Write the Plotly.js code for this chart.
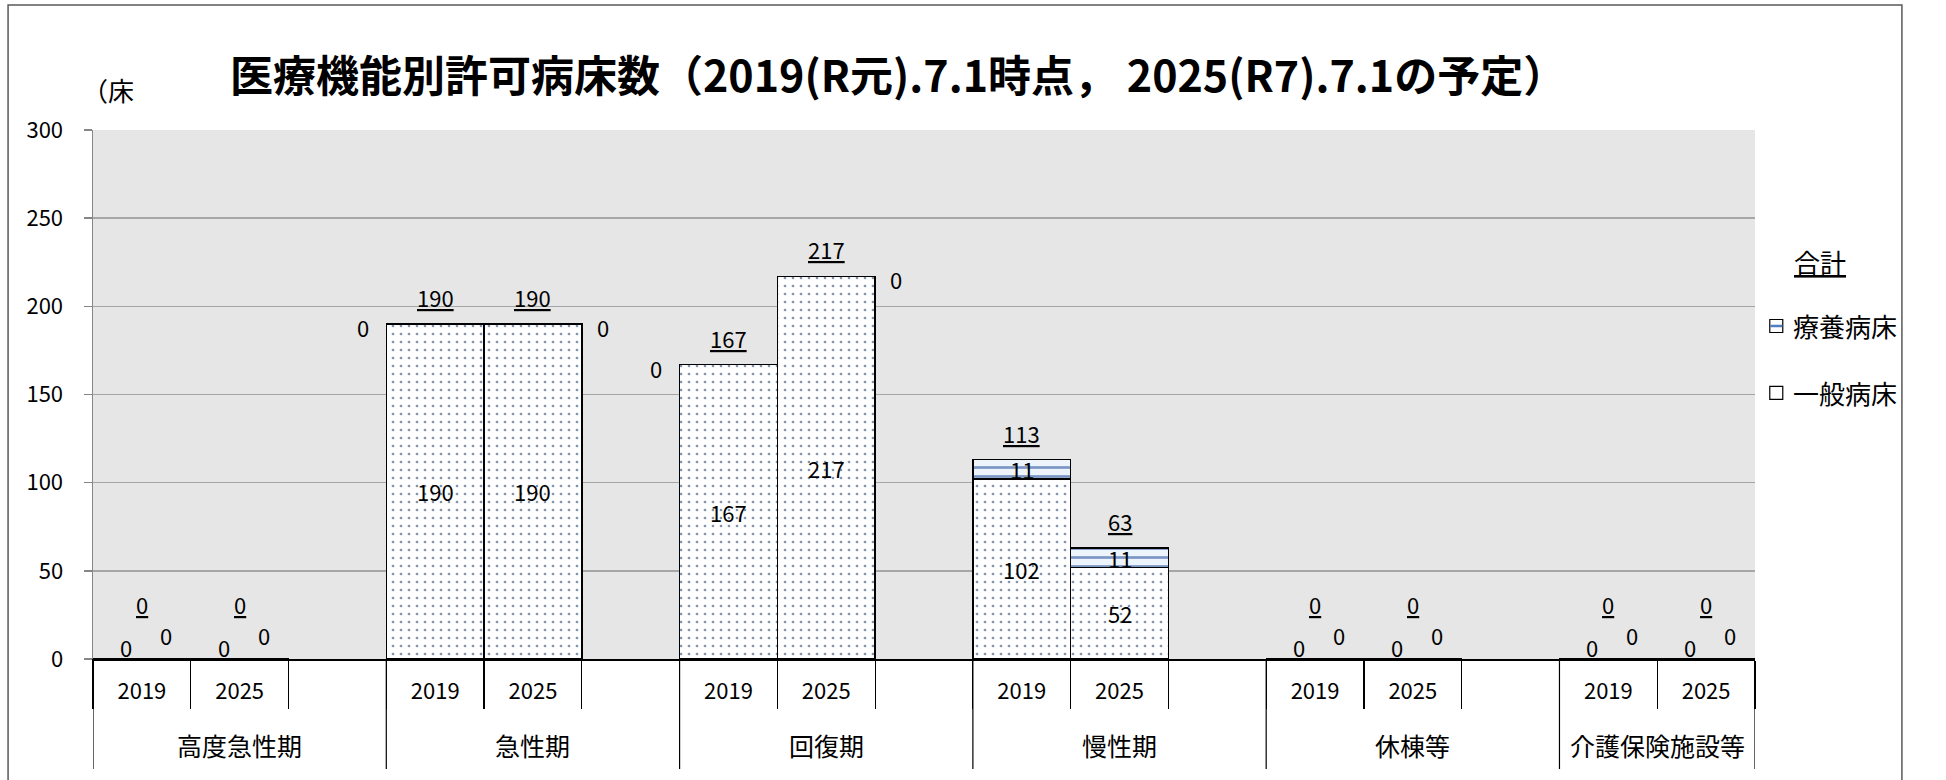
<!DOCTYPE html>
<html>
<head>
<meta charset="utf-8">
<script src="https://cdn.plot.ly/plotly-3.0.1.min.js"></script>
<style>html,body{margin:0;padding:0;background:#fff;}#chart{width:1946px;height:780px;}</style>
</head>
<body>
<div id="chart"></div>
<script>
// ---- data ----
const groups = ['高度急性期', '急性期', '回復期', '慢性期', '休棟等', '介護保険施設等'];
const yearLabels = ['2019', '2025'];
const general2019 = [0, 190, 167, 102, 0, 0];
const general2025 = [0, 190, 217, 52, 0, 0];
const ryoyo2019 = [0, 0, 0, 11, 0, 0];
const ryoyo2025 = [0, 0, 0, 11, 0, 0];
const total2019 = [0, 190, 167, 113, 0, 0];
const total2025 = [0, 190, 217, 63, 0, 0];
const seriesNames = {general: '一般病床', ryoyo: '療養病床', total: '合計'};
const yAxisUnit = '（床';
const titleText = '医療機能別許可病床数（2019(R元).7.1時点， 2025(R7).7.1の予定）';

// ---- build category slots (2019, 2025, spacer per group) ----
const slotKeys = [], slotTexts = [], genY = [], ryoY = [];
const points = [];
const groupSpans = [];
groups.forEach((g, gi) => {
  const start = slotKeys.length;
  yearLabels.forEach((yr, yi) => {
    const gen = yi === 0 ? general2019[gi] : general2025[gi];
    const ryo = yi === 0 ? ryoyo2019[gi] : ryoyo2025[gi];
    const tot = yi === 0 ? total2019[gi] : total2025[gi];
    slotKeys.push(g + '｜' + yr); slotTexts.push(yr); genY.push(gen); ryoY.push(ryo);
    points.push({idx: slotKeys.length - 1, yi, gen, ryo, tot});
  });
  if (gi < groups.length - 1) {
    slotKeys.push(g + '｜'); slotTexts.push(''); genY.push(null); ryoY.push(null);
  }
  groupSpans.push({name: g, start, end: slotKeys.length - 1});
});

const FONT = 'Noto Sans CJK JP, Noto Sans, sans-serif';
const LBL = 22;

const traces = [
  {
    type: 'bar', name: seriesNames.general, x: slotKeys, y: genY,
    marker: {color: '#ffffff', line: {color: '#000000', width: 1.5},
      pattern: {shape: '.', fgcolor: '#7f93ab', bgcolor: '#ffffff', size: 8, solidity: 0.09}},
    hoverinfo: 'skip', showlegend: false
  },
  {
    type: 'bar', name: seriesNames.ryoyo, x: slotKeys, y: ryoY,
    marker: {color: '#ffffff', line: {color: '#000000', width: 1.5},
      pattern: {shape: '-', fgcolor: '#7b96c4', bgcolor: '#eef4fb', size: 9, solidity: 0.3}},
    hoverinfo: 'skip', showlegend: false
  }
];

const annotations = [];
const lab = (x, y, text, xs, ys) => annotations.push({
  xref: 'x', yref: 'y', x, y, text, showarrow: false, xshift: xs, yshift: ys,
  font: {family: FONT, size: LBL, color: '#000'}, xanchor: 'center', yanchor: 'middle'
});
points.forEach(p => {
  // general beds
  if (p.gen > 0) lab(p.idx, p.gen / 2, String(p.gen), 0, 0);
  else lab(p.idx, 0, String(p.gen), -16, 12);
  // ryoyo beds
  if (p.ryo > 0) lab(p.idx, p.gen + p.ryo / 2, String(p.ryo), 0, 0);
  else if (p.gen > 0) lab(p.idx, p.gen, String(p.ryo), p.yi === 0 ? -72 : 70, -3);
  else lab(p.idx, 0, String(p.ryo), 24, 24);
  // totals (underlined)
  lab(p.idx, p.tot, '<u>' + p.tot + '</u>', 0, p.tot > 0 ? 27 : 55);
});

// group (outer) labels
groupSpans.forEach(s => annotations.push({
  xref: 'x', yref: 'paper', x: (s.start + s.end) / 2, y: 0, yshift: -86,
  xanchor: 'center', yanchor: 'middle', text: s.name, showarrow: false,
  font: {family: FONT, size: 25, color: '#000'}
}));

// y unit label
annotations.push({xref: 'paper', yref: 'paper', x: -0.0078, y: 1.077, xanchor: 'left', yanchor: 'middle',
  text: yAxisUnit, showarrow: false, font: {family: FONT, size: 26, color: '#000'}});
// legend (manual, as in reference)
annotations.push({xref: 'paper', yref: 'paper', x: 1.039, y: 0.752, xanchor: 'center', yanchor: 'middle',
  text: '<u>' + seriesNames.total + '</u>', showarrow: false, font: {family: FONT, size: 26, color: '#000'}});
annotations.push({xref: 'paper', yref: 'paper', x: 1.0215, y: 0.6295, xanchor: 'left', yanchor: 'middle',
  text: seriesNames.ryoyo, showarrow: false, font: {family: FONT, size: 26, color: '#000'}});
annotations.push({xref: 'paper', yref: 'paper', x: 1.0215, y: 0.503, xanchor: 'left', yanchor: 'middle',
  text: seriesNames.general, showarrow: false, font: {family: FONT, size: 26, color: '#000'}});

const shapes = [
  // outer chart border
  {type: 'rect', xref: 'paper', yref: 'paper', x0: -0.0511, x1: 1.0884, y0: -0.3, y1: 1.2363,
   line: {color: '#595959', width: 1.5}, fillcolor: 'rgba(0,0,0,0)', layer: 'above'},
  // legend keys
  {type: 'rect', xref: 'paper', yref: 'paper', xsizemode: 'pixel', ysizemode: 'pixel',
   xanchor: 1.0128, yanchor: 0.6295, x0: -6.5, x1: 6.5, y0: -6.5, y1: 6.5,
   line: {color: '#000', width: 1.2}, fillcolor: '#ffffff'},
  {type: 'line', xref: 'paper', yref: 'paper', xsizemode: 'pixel', ysizemode: 'pixel',
   xanchor: 1.0128, yanchor: 0.6295, x0: -6, x1: 6, y0: 0, y1: 0,
   line: {color: '#4f7fbf', width: 2.5}},
  {type: 'rect', xref: 'paper', yref: 'paper', xsizemode: 'pixel', ysizemode: 'pixel',
   xanchor: 1.0128, yanchor: 0.503, x0: -6.5, x1: 6.5, y0: -6.5, y1: 6.5,
   line: {color: '#000', width: 1.2}, fillcolor: '#ffffff'}
];
// group dividers (full depth below axis)
const dividerAt = [groupSpans[0].start - 0.5].concat(groupSpans.map(s => s.end + 0.5));
dividerAt.forEach(b => shapes.push({type: 'line', xref: 'x', yref: 'paper', x0: b, x1: b, y0: 0, y1: -0.208,
  line: {color: '#000', width: 1.2}}));

const layout = {
  width: 1946, height: 780,
  margin: {l: 93, r: 191, t: 130, b: 121},
  paper_bgcolor: '#ffffff', plot_bgcolor: '#e6e6e6',
  font: {family: FONT, size: LBL, color: '#000'},
  title: {text: titleText, x: 0.4615, xanchor: 'center', y: 0.901, yanchor: 'middle',
    font: {family: FONT, size: 43, weight: 'bold', color: '#000'}},
  barmode: 'stack', bargap: 0,
  showlegend: false,
  xaxis: {
    type: 'category', categoryorder: 'array', categoryarray: slotKeys,
    tickmode: 'array', tickvals: slotKeys, ticktext: slotTexts,
    range: [-0.5, slotKeys.length - 0.5],
    showline: true, linecolor: '#000', linewidth: 2,
    ticks: 'outside', tickson: 'boundaries', ticklen: 48, tickcolor: '#000', tickwidth: 1.2,
    ticklabelstandoff: 12,
    tickfont: {family: FONT, size: LBL, color: '#000'},
    showgrid: false, fixedrange: true
  },
  yaxis: {
    range: [0, 300], dtick: 50, tick0: 0,
    showline: true, linecolor: '#868686', linewidth: 1.5,
    ticks: 'outside', ticklen: 8, tickcolor: '#868686', tickwidth: 1.5,
    ticklabelstandoff: 16,
    gridcolor: '#a6a6a6', gridwidth: 1.5, zeroline: false,
    tickfont: {family: FONT, size: LBL, color: '#000'}, fixedrange: true
  },
  annotations, shapes
};

Plotly.newPlot('chart', traces, layout, {staticPlot: true});
</script>
</body>
</html>
